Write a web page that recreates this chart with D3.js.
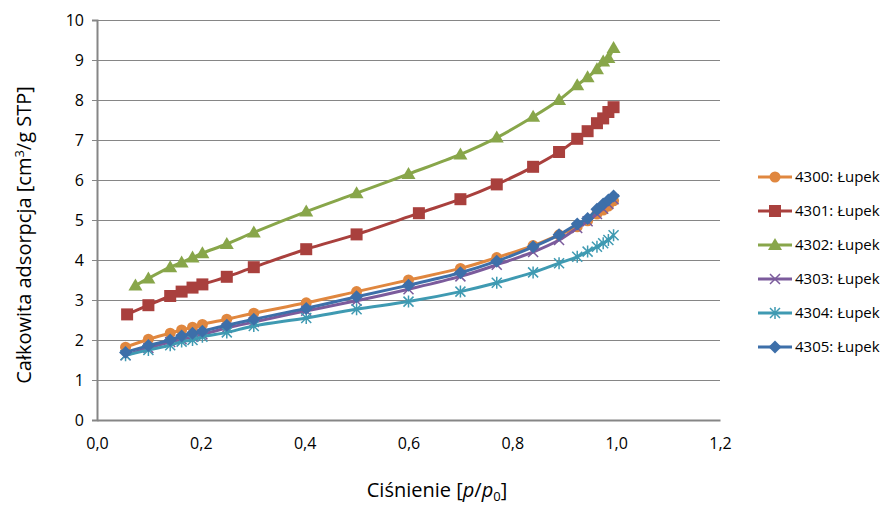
<!DOCTYPE html>
<html><head><meta charset="utf-8">
<script src="https://cdn.jsdelivr.net/npm/d3@7"></script>
<style>
body{margin:0;background:#fff;}
svg{display:block;font-family:"Open Sans","Noto Sans",sans-serif;}
</style></head>
<body><svg id="c" width="885" height="508"></svg>
<script>
// ---- data ----
const pStd   = [0.055,0.099,0.141,0.163,0.184,0.203,0.250,0.302,0.403,0.500,0.600,0.700,0.770,0.840,0.890,0.925,0.945,0.963,0.975,0.985,0.995];
const pRed   = [0.058,0.099,0.141,0.163,0.184,0.203,0.250,0.302,0.403,0.500,0.620,0.700,0.770,0.840,0.890,0.925,0.945,0.963,0.975,0.985,0.995];
const pGreen = [0.074,0.099,0.141,0.163,0.184,0.203,0.250,0.302,0.403,0.500,0.600,0.700,0.770,0.840,0.890,0.925,0.945,0.963,0.975,0.985,0.995];
const s4300 = [1.82,2.02,2.17,2.25,2.32,2.39,2.52,2.67,2.93,3.21,3.50,3.79,4.06,4.36,4.63,4.83,4.98,5.15,5.25,5.35,5.48];
const s4301 = [2.64,2.87,3.10,3.21,3.31,3.39,3.58,3.82,4.27,4.64,5.17,5.52,5.89,6.33,6.70,7.03,7.22,7.42,7.54,7.70,7.82];
const s4302 = [3.36,3.54,3.82,3.94,4.06,4.17,4.40,4.69,5.21,5.67,6.15,6.64,7.06,7.58,8.00,8.37,8.57,8.77,8.96,9.05,9.30];
const s4303 = [1.62,1.80,1.95,2.02,2.08,2.14,2.30,2.45,2.73,2.98,3.27,3.59,3.88,4.20,4.50,4.80,4.97,5.15,5.28,5.40,5.52];
const s4304 = [1.62,1.75,1.87,1.96,2.00,2.08,2.19,2.35,2.55,2.77,2.96,3.21,3.43,3.69,3.92,4.08,4.21,4.33,4.42,4.50,4.62];
const s4305 = [1.69,1.86,2.00,2.10,2.17,2.22,2.37,2.52,2.79,3.08,3.37,3.68,3.97,4.33,4.63,4.90,5.04,5.27,5.40,5.50,5.60];
const seriesNames = ["4300: Łupek","4301: Łupek","4302: Łupek","4303: Łupek","4304: Łupek","4305: Łupek"];
const xTicks = [0,0.2,0.4,0.6,0.8,1.0,1.2];
const yTicks = [0,1,2,3,4,5,6,7,8,9,10];

const series = [
  {name:seriesNames[0], p:pStd,   v:s4300, color:"#E0873F", marker:"circle"},
  {name:seriesNames[1], p:pRed,   v:s4301, color:"#A9403D", marker:"square"},
  {name:seriesNames[2], p:pGreen, v:s4302, color:"#88A64A", marker:"triangle"},
  {name:seriesNames[3], p:pStd,   v:s4303, color:"#7B5B9C", marker:"x"},
  {name:seriesNames[4], p:pStd,   v:s4304, color:"#3F9AB2", marker:"star"},
  {name:seriesNames[5], p:pStd,   v:s4305, color:"#3D6FA9", marker:"diamond"}
];

const svg = d3.select("#c");
const L=97, R=720, T=20, B=420;
const x = d3.scaleLinear().domain([0,1.2]).range([L,R]);
const y = d3.scaleLinear().domain([0,10]).range([B,T]);
const fmt = d => d3.format(".1f")(d).replace(".",",");

// gridlines
svg.append("g").selectAll("line").data(yTicks.filter(d=>d>0)).join("line")
  .attr("x1",L).attr("x2",R).attr("y1",d=>y(d)).attr("y2",d=>y(d))
  .attr("stroke","#868686").attr("stroke-width",1).attr("shape-rendering","crispEdges");

// axes
const yAxis = svg.append("g").attr("transform",`translate(${L},0)`)
  .call(d3.axisLeft(y).tickValues(yTicks).tickSize(5).tickPadding(8).tickFormat(d3.format("d")));
const xAxis = svg.append("g").attr("transform",`translate(0,${B})`)
  .call(d3.axisBottom(x).tickValues(xTicks).tickSize(0).tickPadding(18).tickFormat(fmt));
[yAxis,xAxis].forEach(a=>{
  a.select(".domain").attr("stroke","#868686").attr("stroke-width",2);
  a.selectAll(".tick line").attr("stroke","#868686");
  a.selectAll("text").attr("fill","#000").style("font-size","16px").style("font-family","'Open Sans',sans-serif");
});

// axis titles
svg.append("text").attr("x",437).attr("y",497).attr("text-anchor","middle")
  .style("font-size","20px").attr("fill","#000")
  .call(t=>{
    t.append("tspan").text("Ciśnienie [");
    t.append("tspan").attr("font-style","italic").text("p");
    t.append("tspan").text("/");
    t.append("tspan").attr("font-style","italic").text("p");
    t.append("tspan").attr("dy",4).style("font-size","13px").text("0");
    t.append("tspan").attr("dy",-4).text("]");
  });
svg.append("text").attr("transform","translate(31,235) rotate(-90)").attr("text-anchor","middle")
  .style("font-size","20px").attr("fill","#000")
  .call(t=>{
    t.append("tspan").text("Całkowita adsorpcja [cm");
    t.append("tspan").attr("dy",-7).style("font-size","13px").text("3");
    t.append("tspan").attr("dy",7).text("/g STP]");
  });

// marker drawing
function drawMarker(g, type, color, cx, cy){
  const m = g.append("g").attr("transform",`translate(${cx},${cy})`);
  if(type==="circle") m.append("circle").attr("r",5.5).attr("fill",color);
  else if(type==="square") m.append("rect").attr("x",-6).attr("y",-6).attr("width",12).attr("height",12).attr("fill",color);
  else if(type==="triangle") m.append("path").attr("d","M0,-7L7,5L-7,5Z").attr("fill",color);
  else if(type==="diamond") m.append("path").attr("d","M0,-6.5L6.5,0L0,6.5L-6.5,0Z").attr("fill",color);
  else if(type==="x") m.append("path").attr("d","M-5,-5L5,5M-5,5L5,-5").attr("stroke",color).attr("stroke-width",1.5);
  else if(type==="star") m.append("path").attr("d","M-5,-5L5,5M-5,5L5,-5M0,-6L0,6").attr("stroke",color).attr("stroke-width",1.5);
}

const line = d3.line().x(d=>x(d[0])).y(d=>y(d[1])).curve(d3.curveCatmullRom.alpha(0.5));
const plot = svg.append("g");
series.forEach(s=>{
  const pts = s.p.map((p,i)=>[p,s.v[i]]);
  const g = plot.append("g");
  g.append("path").datum(pts).attr("d",line).attr("fill","none")
    .attr("stroke",s.color).attr("stroke-width",3).attr("stroke-linejoin","round");
  pts.forEach(d=>drawMarker(g,s.marker,s.color,x(d[0]),y(d[1])));
});

// legend
const leg = svg.append("g");
series.forEach((s,i)=>{
  const ly = 177 + i*34;
  leg.append("line").attr("x1",758).attr("x2",792).attr("y1",ly).attr("y2",ly)
    .attr("stroke",s.color).attr("stroke-width",3);
  drawMarker(leg,s.marker,s.color,775,ly);
  leg.append("text").attr("x",795).attr("y",ly+5).style("font-size","15px").attr("fill","#000").text(s.name);
});
</script></body></html>
